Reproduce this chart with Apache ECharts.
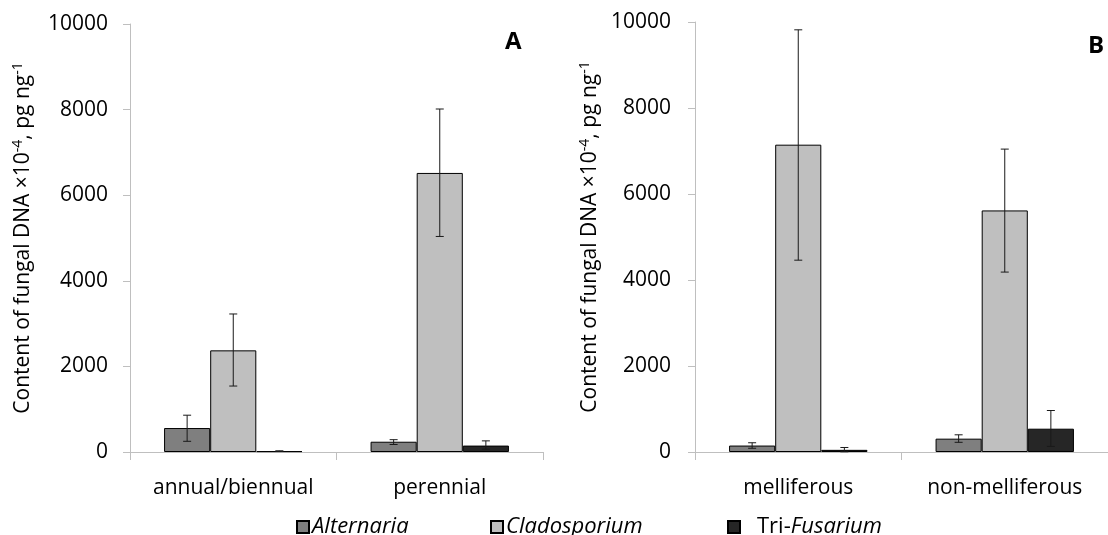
<!DOCTYPE html>
<html>
<head>
<meta charset="utf-8">
<script src="https://cdn.jsdelivr.net/npm/echarts@6/dist/echarts.min.js"></script>
<style>
  html, body { margin: 0; padding: 0; background: #fff; }
  #chart { width: 1108px; height: 535px; }
</style>
</head>
<body>
<div id="chart"></div>
<script>
// panel A: life cycle, panel B: melliferous or not
var catsA = ['annual/biennual', 'perennial'];
var catsB = ['melliferous', 'non-melliferous'];
var seriesNames = ['Alternaria', 'Cladosporium', 'Tri-Fusarium'];

var altA = [560, 240];
var claA = [2375, 6520];
var triA = [20, 150];
var altErrA = [[250, 860], [175, 288]];
var claErrA = [[1541, 3225], [5036, 8014]];
var triErrA = [[14, 28], [65, 260]];

var altB = [150, 310];
var claB = [7147, 5618];
var triB = [50, 542];
var altErrB = [[87, 215], [225, 400]];
var claErrB = [[4461, 9818], [4184, 7044]];
var triErrB = [[5, 105], [130, 965]];

var yTicks = [0, 2000, 4000, 6000, 8000, 10000];

var colors = ['#7f7f7f', '#bfbfbf', '#262626'];
var font = 'Open Sans';
var gapPct = 0.33;

function errData(arr) {
    var out = [];
    for (var i = 0; i < arr.length; i++) {
        out.push([i, arr[i][0], arr[i][1]]);
    }
    return out;
}

// draws the error bar over bar number k (0,1,2) of the group
function errRender(k) {
    return function (params, api) {
        var x = api.value(0);
        var pLo = api.coord([x, api.value(1)]);
        var pHi = api.coord([x, api.value(2)]);
        var band = api.size([1, 0])[0];
        var bw = band * (1 - gapPct) / 3;
        var cx = pLo[0] + (k - 1) * bw;
        var cap = 4;
        var st = { stroke: '#1a1a1a', lineWidth: 1 };
        return {
            type: 'group',
            children: [
                { type: 'line', shape: { x1: cx, y1: pLo[1], x2: cx, y2: pHi[1] }, style: st },
                { type: 'line', shape: { x1: cx - cap, y1: pHi[1], x2: cx + cap, y2: pHi[1] }, style: st },
                { type: 'line', shape: { x1: cx - cap, y1: pLo[1], x2: cx + cap, y2: pLo[1] }, style: st }
            ]
        };
    };
}

function xAxisFor(idx, cats) {
    return {
        type: 'category',
        gridIndex: idx,
        data: cats,
        axisLine: { lineStyle: { color: '#bfbfbf', width: 1 } },
        axisTick: { show: true, length: 8, alignWithLabel: false, lineStyle: { color: '#bfbfbf' } },
        axisLabel: { color: '#000', fontFamily: font, fontSize: 21, margin: 26, interval: 0 }
    };
}

function yAxisFor(idx, margin, gap) {
    return {
        type: 'value',
        gridIndex: idx,
        min: yTicks[0],
        max: yTicks[yTicks.length - 1],
        interval: 2000,
        splitLine: { show: false },
        axisLine: { show: true, lineStyle: { color: '#bfbfbf', width: 1 } },
        axisTick: { show: true, length: 7, lineStyle: { color: '#bfbfbf' } },
        axisLabel: {
            color: '#000', fontFamily: font, fontSize: 21, margin: margin,
            formatter: function (v) { return String(v); }
        },
        name: 'Content of fungal DNA \u00d710{sup|-4}, pg ng{sup|-1}',
        nameLocation: 'middle',
        nameRotate: 90,
        nameGap: gap,
        nameTextStyle: {
            color: '#000',
            fontFamily: font,
            fontSize: 21,
            lineHeight: 25,
            rich: {
                sup: { fontFamily: font, fontSize: 14, lineHeight: 25, verticalAlign: 'top', padding: [0, 0, 10, 0] }
            }
        }
    };
}

function barSeries(idx, name, vals, color) {
    return {
        name: name,
        type: 'bar',
        xAxisIndex: idx,
        yAxisIndex: idx,
        data: vals,
        barGap: '0%',
        barCategoryGap: (gapPct * 100) + '%',
        itemStyle: { color: color, borderColor: '#000', borderWidth: 1 }
    };
}

function errSeries(idx, k, errs) {
    return {
        name: 'err' + idx + '_' + k,
        type: 'custom',
        xAxisIndex: idx,
        yAxisIndex: idx,
        renderItem: errRender(k),
        data: errData(errs),
        encode: { x: 0, y: [1, 2] },
        z: 5
    };
}

function legendFor(name, left, fmt) {
    return {
        data: [name],
        left: left,
        top: 511,
        icon: 'rect',
        itemWidth: 12,
        itemHeight: 12,
        selectedMode: false,
        formatter: fmt,
        textStyle: {
            color: '#000',
            fontFamily: font,
            fontSize: 22,
            fontStyle: 'italic',
            padding: [0, 0, 0, -2],
            rich: {
                n: { fontFamily: font, fontSize: 22, fontStyle: 'normal', padding: [0, 0, 0, 14] },
                i: { fontFamily: font, fontSize: 22, fontStyle: 'italic' }
            }
        }
    };
}

var myChart = echarts.init(document.getElementById('chart'));
myChart.setOption({
    animation: false,
    backgroundColor: '#fff',
    title: [
        { text: 'A', left: 505, top: 30, padding: 0, textStyle: { fontFamily: font, fontSize: 24, fontWeight: 'bold', color: '#000' } },
        { text: 'B', left: 1088, top: 34, padding: 0, textStyle: { fontFamily: font, fontSize: 24, fontWeight: 'bold', color: '#000' } }
    ],
    legend: [
        legendFor('Alternaria', 291),
        legendFor('Cladosporium', 485),
        legendFor('Tri-Fusarium', 722, function () { return '{n|Tri-}{i|Fusarium}'; })
    ],
    grid: [
        { left: 130, top: 24, width: 413, height: 428 },
        { left: 695, top: 22, width: 426, height: 430 }
    ],
    xAxis: [xAxisFor(0, catsA), xAxisFor(1, catsB)],
    yAxis: [yAxisFor(0, 22, 94), yAxisFor(1, 24, 92)],
    series: [
        barSeries(0, seriesNames[0], altA, colors[0]),
        barSeries(0, seriesNames[1], claA, colors[1]),
        barSeries(0, seriesNames[2], triA, colors[2]),
        barSeries(1, seriesNames[0], altB, colors[0]),
        barSeries(1, seriesNames[1], claB, colors[1]),
        barSeries(1, seriesNames[2], triB, colors[2]),
        errSeries(0, 0, altErrA),
        errSeries(0, 1, claErrA),
        errSeries(0, 2, triErrA),
        errSeries(1, 0, altErrB),
        errSeries(1, 1, claErrB),
        errSeries(1, 2, triErrB)
    ]
});
</script>
</body>
</html>
